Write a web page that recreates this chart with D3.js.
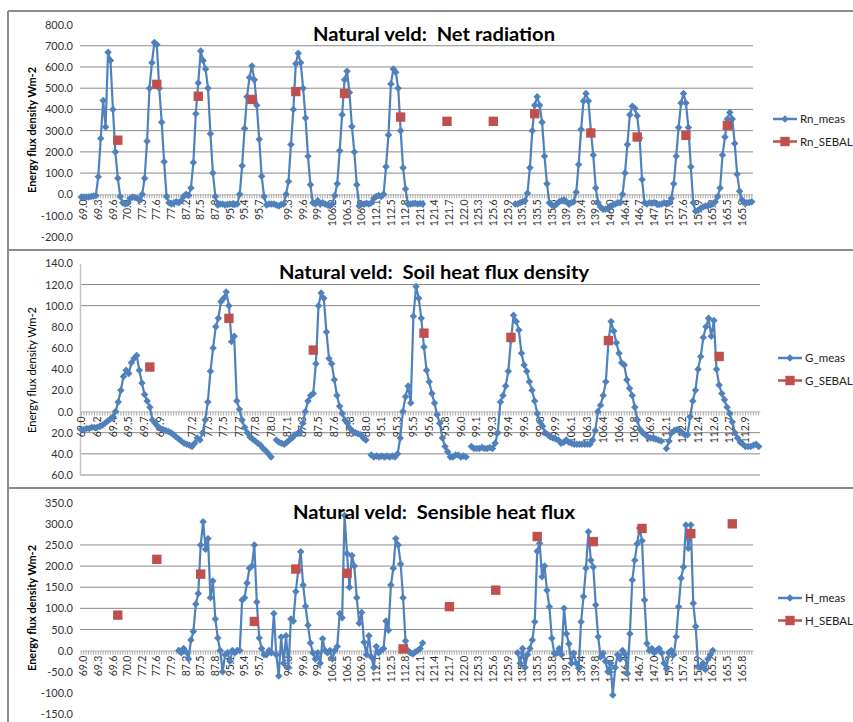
<!DOCTYPE html>
<html>
<head>
<meta charset="utf-8">
<script src="https://cdn.jsdelivr.net/npm/d3@7"></script>
<style>
  body { margin: 0; background: #fff; }
  svg { display: block; font-family: Lato, "Open Sans", sans-serif; }
</style>
</head>
<body>
<svg id="chart" width="853" height="722"></svg>
<script>
// ---- data: Net radiation ----
const rnLabels = ["69.0", "69.3", "69.6", "70.0", "77.3", "77.6", "77.9", "87.2", "87.5", "87.8", "95.1", "95.4", "95.7", "",
  "99.3", "99.6", "99.9", "106.2", "106.5", "106.9", "112.1", "112.5", "112.8", "121.1", "121.4", "121.7", "122.0",
  "125.3", "125.6", "125.9", "135.2", "135.5", "135.8", "139.1", "139.4", "139.8", "146.0", "146.4", "146.7", "147.0",
  "157.3", "157.6", "157.9", "165.2", "165.5", "165.8"];
const rnMeas = [
  -12, -13, -12, -12, -10, -8,
  -5, 83, 263, 442, 317, 669,
  630, 400, 200, 76, -10, -40,
  -45, -43, -20, -12, -15, -18,
  -25, 0, 76, 250, 500, 620,
  715, 705, 500, 340, 153, -10,
  -40, -45, -40, -35, -40, -30,
  -10, 0, -5, 30, 150, 380,
  525, 675, 630, 590, 500, 285,
  100, -10, -50, -45, -45, -50,
  -48, -45, -45, -48, -45, 0,
  135, 310, 460, 550, 605, 540,
  420, 260, 85, -10, -50, -45,
  -45, -45, -50, -55, -48, -45,
  0, 60, 235, 400, 615, 665,
  620, 500, 360, 180, 45, -40,
  -45, -30, -45, -40, -45, -50,
  -55, -45, -5, 50, 205, 375,
  540, 580, 480, 320, 200, 45,
  -55, -45, -45, -42, -45, -40,
  -20, -10, -5, -10, 0, 130,
  280, 520, 590, 575, 500, 300,
  125, 25, -45, -45, -43, -42,
  -45, -43, -45, null, null, null,
  null, null, null, null, null, null,
  null, null, null, null, null, null,
  null, null, null, null, null, null,
  null, null, null, null, null, null,
  null, null, null, null, null, null,
  null, null, null, null, -45, -45,
  -40, -35, -30, 5, 125, 300,
  420, 460, 420, 340, 180, 50,
  -40, -50, -55, -45, -35, -30,
  -25, -35, -45, -40, -35, 10,
  140, 305, 440, 475, 440, 300,
  185, 30, -40, -60, -70, -70,
  -65, -55, -50, -45, -40, -40,
  0, 100, 235, 375, 415, 405,
  370, 265, 70, -40, -45, -40,
  -42, -40, -45, -48, -45, -40,
  -45, -42, -20, 50, 180, 315,
  430, 475, 430, 315, 130, -40,
  -80, -75, -65, -60, -55, -55,
  -50, -45, -35, -10, 30, 185,
  270, 355, 385, 355, 240, 95,
  15, -25, -40, -40, -38, -35
];
const rnSebalAt = [15, 31, 48, 70, 88, 108, 131, 150, 169, 186, 209, 228, 248, 265];
const rnSebal = [255, 518, 462, 447, 484, 475, 364, 344, 344, 380, 289, 270, 278, 325];
const rnTicks = [-200, -100, 0, 100, 200, 300, 400, 500, 600, 700, 800];
const rnTickText = ["-200.0", "-100.0", "0.0", "100.0", "200.0", "300.0", "400.0", "500.0", "600.0", "700.0", "800.0"];
const rnGrid = [100, 200, 300, 400, 500, 600, 700];

// ---- data: Soil heat flux density ----
const gLabels = ["69.0", "69.2", "69.4", "69.5", "69.7", "69.9", "", "77.2", "77.3", "77.5", "77.7", "77.8", "78.0",
  "87.1", "87.3", "87.5", "87.6", "87.8", "88.0", "95.1", "95.3", "95.5", "95.6", "95.8", "96.0",
  "99.1", "99.3", "99.4", "99.6", "99.8", "99.9", "106.1", "106.3", "106.4", "106.6", "106.8", "106.9",
  "112.1", "112.2", "112.4", "112.6", "112.7", "112.9"];
const gMeas = [
  -17, -17, -16, -16, -15, -15,
  -15, -14, -13, -11, -9, -7,
  -5, 0, 9, 20, 33, 39,
  36, 46, 50, 53, 39, 27,
  16, 10, 4, -8, -11, -14,
  -16, -17, -18, -19, -20, -22,
  -24, -26, -28, -30, -31, -32,
  -33, -30, -25, -27, -20, -8,
  9, 38, 60, 80, 88, 104,
  107, 113, 100, 66, 71, 10,
  2, -8, -15, -20, -24, -26,
  -28, -30, -32, -35, -37, -40,
  -43, null, -27, -29, -30, -31,
  -29, -27, -25, -22, -21, -19,
  -11, 0, 10, 15, 17, 45,
  100, 112, 107, 75, 50, 45,
  30, 15, 5, -2, -8, -11,
  -16, -19, -20, -21, -22, -25,
  -27, null, -41, -43, -42, -43,
  -42, -43, -42, -43, -42, -43,
  -40, -25, 0, 14, 24, 8,
  90, 118, 107, 88, 61, 39,
  28, 17, 8, -3, -11, -25,
  -33, -38, -43, -43, -41, -41,
  -43, -42, -43, null, -33, -35,
  -35, -35, -34, -35, -35, -34,
  -35, -30, -20, 9, 15, 24,
  38, 67, 91, 85, 77, 55,
  44, 38, 28, 20, 10, -2,
  -10, -14, -20, -22, -24, -25,
  -26, -27, -30, -29, -27, -29,
  -30, -31, -31, -31, -31, -31,
  -31, -31, -27, -18, 0, 6,
  15, 28, 66, 85, 76, 65,
  55, 46, 44, 30, 22, 15,
  4, -8, -17, -20, -22, -24,
  -25, -25, -26, -27, -28, null,
  -35, -28, -20, -18, -17, -18,
  -20, -22, -22, -5, 10, 20,
  40, 52, 70, 80, 88, 71,
  86, 40, 25, 17, 11, 4,
  -2, -10, -20, -25, -29, -31,
  -33, -33, -33, -32, -31, -33
];
const gSebalAt = [26, 56, 88, 130, 163, 200, 242];
const gSebal = [42, 88, 58, 74, 70, 67, 52];
const gTicks = [-60, -40, -20, 0, 20, 40, 60, 80, 100, 120, 140];
const gTickText = ["60.0", "40.0", "20.0", "0.0", "20.0", "40.0", "60.0", "80.0", "100.0", "120.0", "140.0"];
const gGrid = [-60, -40, -20, 100, 120];

// ---- data: Sensible heat flux ----
const hLabels = ["69.0", "69.3", "69.6", "70.0", "77.2", "77.6", "77.9", "87.2", "87.5", "87.8", "95.1", "95.4", "95.7", "",
  "99.3", "99.6", "99.9", "106.2", "106.5", "106.9", "112.1", "112.5", "112.8", "121.1", "121.4", "121.7", "122.0",
  "125.3", "125.6", "125.9", "135.2", "135.5", "135.8", "139.1", "139.4", "139.8", "146.0", "146.4", "146.7", "147.0",
  "157.3", "157.6", "157.9", "165.2", "165.5", "165.8"];
const hMeas = [
  null, null, null, null, null, null,
  null, null, null, null, null, null,
  null, null, null, null, null, null,
  null, null, null, null, null, null,
  null, null, null, null, null, null,
  null, null, null, null, null, null,
  null, null, null, null, 0, -5,
  5, -3, -20, 25, 45, 110,
  135, 250, 305, 240, 265, 125,
  165, 75, 30, 0, -50, -10,
  -5, -25, 0, -5, 0, 0,
  120, 125, 160, 195, 200, 250,
  115, 30, 5, -10, -10, 0,
  -5, 88, -10, -60, 32, -30,
  35, -40, 75, 70, 140, 190,
  234, 155, 105, 60, 18, -5,
  -20, -5, -30, 28, 0, -5,
  0, -20, 0, 10, 88, 78,
  320, 230, 150, 225, 200, 125,
  65, 90, 20, -10, 35, -15,
  -40, 10, -5, 0, 5, 70,
  48, 155, 195, 265, 250, 205,
  125, 23, 0, -5, -8, -3,
  0, 5, 18, null, null, null,
  null, null, null, null, null, null,
  null, null, null, null, null, null,
  null, null, null, null, null, null,
  null, null, null, null, null, null,
  null, null, null, null, null, null,
  null, null, null, null, null, -5,
  -30, 5, -40, -10, 5, 25,
  68, 235, 254, 175, 200, 143,
  104, 29, -6, -6, 5, -10,
  100, 40, 16, -30, -6, -30,
  -42, 68, 128, 195, 281, 214,
  198, 108, 33, -15, -6, -25,
  -50, -30, -105, -40, -10, -20,
  0, -8, -55, 40, 167, 214,
  253, 290, 260, 120, 17, 0,
  5, -5, 0, 5, -5, -30,
  -43, -5, 0, -10, 33, 104,
  171, 198, 297, 242, 297, 112,
  57, -38, -40, -30, -45, -20,
  -10, 0, null, null, null, null,
  null, null, null, null, null, null,
  null, null, null, null, null, null
];
const hSebalAt = [15, 31, 49, 71, 88, 109, 132, 151, 170, 187, 210, 230, 250, 267];
const hSebal = [84, 216, 181, 69, 193, 183, 4, 104, 143, 270, 258, 289, 277, 300];
const hTicks = [-150, -100, -50, 0, 50, 100, 150, 200, 250, 300, 350];
const hTickText = ["-150.0", "-100.0", "-50.0", "0.0", "50.0", "100.0", "150.0", "200.0", "250.0", "300.0", "350.0"];
const hGrid = [50, 100, 150, 200, 250];

const PER_LABEL = 6;
const BLUE = '#4F81BD', RED = '#C0504D';

const svg = d3.select('#chart');

// frame round the three panels
const frameLines = [[8, 11, 853, 11], [8, 11, 8, 722], [8, 250, 853, 250], [8, 488, 853, 488]];
svg.selectAll('line.frame').data(frameLines).join('line')
    .attr('class', 'frame')
    .attr('x1', d => d[0]).attr('y1', d => d[1])
    .attr('x2', d => d[2]).attr('y2', d => d[3])
    .attr('stroke', '#8c8c8c').attr('stroke-width', 2);

// diamond marker like excel's
const diamond = {
    draw(ctx, size) {
        const r = Math.sqrt(size / 2);
        ctx.moveTo(0, -r); ctx.lineTo(r, 0); ctx.lineTo(0, r); ctx.lineTo(-r, 0); ctx.closePath();
    }
};
const diamondPath = d3.symbol(diamond, 28)();
const squarePath = d3.symbol(d3.symbolSquare, 88)();

const panels = [
    {
        title: 'Natural veld:  Net radiation', titleY: 41, titleLen: 242,
        labels: rnLabels, labelShift: 1, meas: rnMeas, sebalAt: rnSebalAt, sebal: rnSebal,
        yTicks: rnTicks, yText: rnTickText, grid: rnGrid,
        yDomain: [-200, 800], yRange: [236.8, 24.5], xRange: [80, 753],
        names: ['Rn_meas', 'Rn_SEBAL'], legendX: 773, legendY: 119,
        axisTitleY: 130, axisBold: true, axisLine: false
    },
    {
        title: 'Natural veld:  Soil heat flux density', titleY: 279, titleLen: 310,
        labels: gLabels, labelShift: 0, meas: gMeas, sebalAt: gSebalAt, sebal: gSebal,
        yTicks: gTicks, yText: gTickText, grid: gGrid,
        yDomain: [-60, 140], yRange: [475, 263.3], xRange: [80, 760],
        names: ['G_meas', 'G_SEBAL'], legendX: 778, legendY: 358,
        axisTitleY: 370, axisBold: false, axisLine: true
    },
    {
        title: 'Natural veld:  Sensible heat flux', titleY: 519, titleLen: 282,
        labels: hLabels, labelShift: 1, meas: hMeas, sebalAt: hSebalAt, sebal: hSebal,
        yTicks: hTicks, yText: hTickText, grid: hGrid,
        yDomain: [-150, 350], yRange: [714, 502.7], xRange: [80, 753],
        names: ['H_meas', 'H_SEBAL'], legendX: 778, legendY: 598,
        axisTitleY: 608, axisBold: true, axisLine: false
    }
];

const drawPanel = (p) => {
    const g = svg.append('g');
    const n = p.meas.length;
    const x = d3.scaleBand().domain(d3.range(n)).range(p.xRange);
    const cx = i => x(i) + x.bandwidth() / 2;
    const y = d3.scaleLinear().domain(p.yDomain).range(p.yRange);
    const y0 = y(0);

    // gridlines
    g.selectAll('line.grid').data(p.grid).join('line')
        .attr('x1', p.xRange[0]).attr('x2', p.xRange[1])
        .attr('y1', d => y(d)).attr('y2', d => y(d))
        .attr('stroke', '#8a8a8a').attr('stroke-width', 1);

    // value axis
    const yAxis = g.append('g')
        .attr('transform', 'translate(' + p.xRange[0] + ',0)')
        .call(d3.axisLeft(y).tickValues(p.yTicks).tickSize(0).tickSizeOuter(0).tickPadding(7)
            .tickFormat((d, k) => p.yText[k]));
    yAxis.selectAll('text').attr('font-size', 11).attr('fill', '#333').attr('font-family', 'Lato, sans-serif');
    if (p.axisLine) {
        yAxis.select('.domain').attr('stroke', '#c4c4c4').attr('stroke-width', 1.5);
    } else {
        yAxis.select('.domain').remove();
    }

    // category axis: one small tick per category
    const minor = g.append('g')
        .attr('transform', 'translate(0,' + y0 + ')')
        .call(d3.axisBottom(x).tickValues(d3.range(n)).tickSize(4).tickSizeOuter(0).tickFormat(''));
    minor.selectAll('line').attr('stroke', '#a8a8a8');
    minor.select('.domain').attr('stroke', '#b8b8b8');

    // category labels every PER_LABEL categories
    const labelIdx = p.labels.map((t, j) => j * PER_LABEL + p.labelShift);
    const lab = g.append('g')
        .attr('transform', 'translate(0,' + y0 + ')')
        .call(d3.axisBottom(x).tickValues(labelIdx).tickSize(0)
            .tickFormat(i => p.labels[(i - p.labelShift) / PER_LABEL]));
    lab.select('.domain').remove();
    lab.selectAll('text')
        .attr('transform', 'rotate(-90)')
        .attr('x', -5).attr('y', 0).attr('dy', '0.35em')
        .attr('text-anchor', 'end')
        .attr('font-size', 10.5).attr('fill', '#333').attr('font-family', 'Lato, sans-serif');

    // measured series
    const pts = p.meas.map((v, i) => ({ i, v }));
    const line = d3.line().defined(d => d.v != null).x(d => cx(d.i)).y(d => y(d.v));
    g.append('path').datum(pts)
        .attr('d', line)
        .attr('fill', 'none').attr('stroke', BLUE).attr('stroke-width', 2.2)
        .attr('stroke-linejoin', 'round');
    g.selectAll('path.meas').data(pts.filter(d => d.v != null)).join('path')
        .attr('class', 'meas')
        .attr('d', diamondPath)
        .attr('transform', d => 'translate(' + cx(d.i) + ',' + y(d.v) + ')')
        .attr('fill', BLUE);

    // SEBAL estimates
    g.selectAll('path.sebal').data(p.sebal).join('path')
        .attr('class', 'sebal')
        .attr('d', squarePath)
        .attr('transform', (d, k) => 'translate(' + cx(p.sebalAt[k]) + ',' + y(d) + ')')
        .attr('fill', RED);

    // title
    g.append('text')
        .attr('x', 434).attr('y', p.titleY)
        .attr('text-anchor', 'middle')
        .attr('font-size', 19).attr('font-weight', 'bold').attr('fill', '#000')
        .attr('textLength', p.titleLen).attr('lengthAdjust', 'spacingAndGlyphs')
        .style('white-space', 'pre')
        .text(p.title);

    // axis title
    g.append('text')
        .attr('transform', 'translate(36,' + p.axisTitleY + ') rotate(-90)')
        .attr('text-anchor', 'middle')
        .attr('font-size', 11).attr('font-weight', p.axisBold ? 'bold' : 'normal').attr('fill', '#000')
        .attr('textLength', 126).attr('lengthAdjust', 'spacingAndGlyphs')
        .text('Energy flux density Wm-2');

    // legend
    const leg = g.append('g').attr('transform', 'translate(' + p.legendX + ',' + p.legendY + ')');
    const entries = [{ name: p.names[0], color: BLUE, mark: diamondPath }, { name: p.names[1], color: RED, mark: squarePath }];
    const row = leg.selectAll('g').data(entries).join('g')
        .attr('transform', (d, k) => 'translate(0,' + k * 22.5 + ')');
    row.append('line')
        .attr('x1', 0).attr('x2', 24)
        .attr('stroke', d => d.color).attr('stroke-width', 2.5);
    row.append('path')
        .attr('d', d => d.mark)
        .attr('transform', 'translate(12,0)')
        .attr('fill', d => d.color);
    row.append('text')
        .attr('x', 27).attr('dy', '0.35em')
        .attr('font-size', 11.5).attr('fill', '#222')
        .text(d => d.name);
};

panels.forEach(drawPanel);
</script>
</body>
</html>
